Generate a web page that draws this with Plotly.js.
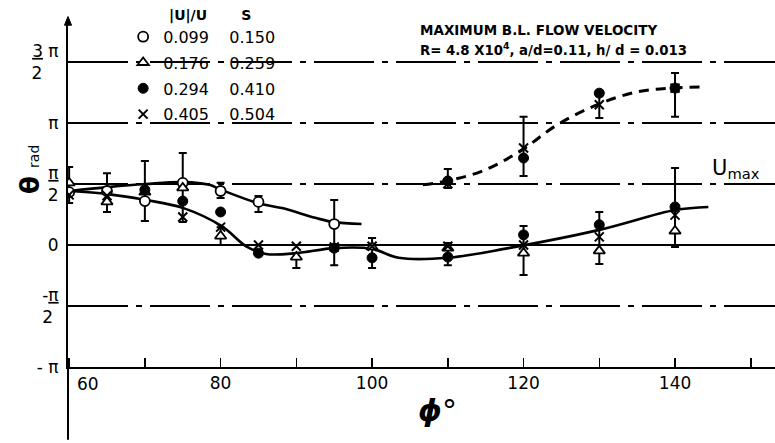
<!DOCTYPE html>
<html><head><meta charset="utf-8">
<script src="https://cdn.plot.ly/plotly-3.0.1.min.js"></script>
<style>html,body{margin:0;padding:0;background:#fff}#chart{width:775px;height:443px}</style>
</head><body><div id="chart"></div>
<script>
const PI = Math.PI;

// ---- data (phi in degrees, theta in radians) ----
const seriesNames = ['0.099&nbsp;&nbsp;&nbsp;&nbsp;0.150', '0.176&nbsp;&nbsp;&nbsp;&nbsp;0.259', '0.294&nbsp;&nbsp;&nbsp;&nbsp;0.410', '0.405&nbsp;&nbsp;&nbsp;&nbsp;0.504'];

const phiOpen   = [60, 65, 70, 75, 80, 85, 95];
const thetaOpen = [1.36, 1.39, 1.13, 1.60, 1.39, 1.11, 0.54];

const phiTri   = [60, 65, 70, 75, 80, 90, 100, 110, 120, 130, 140];
const thetaTri = [1.60, 1.11, 1.36, 1.47, 0.23, -0.31, -0.05, -0.08, -0.21, -0.15, 0.36];

const phiFill   = [70, 75, 80, 85, 95, 100, 110, 110, 120, 120, 130, 130, 140, 140];
const thetaFill = [1.42, 1.13, 0.85, -0.21, -0.08, -0.33, -0.31, 1.65, 2.24, 0.26, 3.91, 0.52, 4.04, 0.98];

const phiX   = [60, 65, 75, 80, 85, 90, 95, 100, 110, 110, 120, 120, 130, 130, 140, 140];
const thetaX = [1.29, 1.27, 0.72, 0.46, 0.0, -0.03, -0.05, -0.03, -0.03, 1.58, 2.50, 0.0, 3.61, 0.21, 4.04, 0.77];

// error bars: top and bottom of each bar
const errPhi = [60, 65, 70, 75, 80, 80, 85, 90, 95, 100, 110, 110, 120, 120, 130, 130, 140, 140];
const errTop = [2.01, 1.85, 2.16, 2.37, 1.60, 0.46, 1.26, -0.21, 1.16, 0.18, 0.05, 1.96, 3.30, 0.49, 3.85, 0.85, 4.43, 1.98];
const errBot = [1.08, 0.85, 0.62, 0.59, 1.21, 0.00, 0.85, -0.59, -0.52, -0.59, -0.52, 1.47, 1.78, -0.77, 3.27, -0.49, 3.30, -0.05];

// fitted curves
const lowPhi   = [60.1, 65.1, 70.1, 75.1, 80.1, 83.5, 86.0, 90.0, 95.0, 100.0, 103.5, 110.0, 118.0, 130.0, 140.0, 144.4];
const lowTheta = [1.39, 1.31, 1.16, 0.95, 0.49, -0.05, -0.23, -0.21, -0.08, -0.10, -0.33, -0.33, -0.08, 0.39, 0.90, 0.98];

const upPhi   = [60.1, 65.1, 70.1, 75.1, 78.5, 80.1, 84.9, 88.1, 92.5, 94.9, 98.6];
const upTheta = [1.39, 1.49, 1.57, 1.62, 1.55, 1.42, 1.08, 0.95, 0.70, 0.59, 0.54];

const dashPhi   = [106.7, 109.9, 114.9, 119.8, 124.4, 129.7, 134.9, 139.5, 143.7];
const dashTheta = [1.55, 1.65, 1.93, 2.45, 3.09, 3.61, 3.94, 4.04, 4.07];

const xTickVals = [80, 100, 120, 140];
const xTickText = ['80', '100', '120', '140'];
const xFirstLabel = '60';
const yTickVals = [-PI, -PI / 2, 0, PI / 2, PI, 1.5 * PI];
const yTickText = ['- π', '-<u>π</u><br>2&nbsp;', '0', '<u>π</u><br>2', 'π', '<u>3</u>&nbsp;π<br>2&nbsp;&nbsp;&nbsp;'];

// ---- traces ----
const FONT = 'DejaVu Sans, sans-serif';
const errCenter = errTop.map((t, i) => (t + errBot[i]) / 2);
const errHalf = errTop.map((t, i) => (t - errBot[i]) / 2);

const traces = [
  {x: lowPhi, y: lowTheta, mode: 'lines', line: {color: '#000', width: 2.6, shape: 'spline', smoothing: 1}, showlegend: false, hoverinfo: 'skip'},
  {x: upPhi, y: upTheta, mode: 'lines', line: {color: '#000', width: 2.6, shape: 'spline', smoothing: 1}, showlegend: false, hoverinfo: 'skip'},
  {x: dashPhi, y: dashTheta, mode: 'lines', line: {color: '#000', width: 3, shape: 'spline', smoothing: 1, dash: '10px,7px'}, showlegend: false, hoverinfo: 'skip'},
  {x: errPhi, y: errCenter, mode: 'markers', marker: {size: 2, opacity: 0}, showlegend: false,
   error_y: {type: 'data', array: errHalf, symmetric: true, color: '#000', thickness: 2, width: 4}},
  {x: phiOpen, y: thetaOpen, name: seriesNames[0], legendgroup: 'a', mode: 'markers',
   marker: {symbol: 'circle', size: 10, color: '#fff', line: {color: '#000', width: 1.8}}},
  {x: phiTri, y: thetaTri, name: seriesNames[1], legendgroup: 'b', mode: 'markers',
   marker: {symbol: 'triangle-up', size: 10, color: '#fff', line: {color: '#000', width: 1.8}}},
  {x: phiFill, y: thetaFill, name: seriesNames[2], legendgroup: 'c', mode: 'markers',
   marker: {symbol: 'circle', size: 10, color: '#000', line: {color: '#000', width: 1}}},
  {x: phiX, y: thetaX, name: seriesNames[3], legendgroup: 'd', mode: 'markers',
   marker: {symbol: 'x-thin-open', size: 9, color: '#000', line: {color: '#000', width: 2}}}
];

const layout = {
  width: 775, height: 443,
  margin: {l: 68, r: 0, t: 20, b: 76},
  paper_bgcolor: '#fff', plot_bgcolor: '#fff',
  font: {family: FONT, color: '#000'},
  showlegend: true,
  legend: {x: 0.078, xanchor: 'left', y: 1.053, yanchor: 'top', bgcolor: 'rgba(0,0,0,0)',
    font: {size: 16, family: FONT}, traceorder: 'grouped', tracegroupgap: 2,
    title: {text: '<b>&nbsp;&nbsp;&nbsp;&nbsp;&nbsp;&nbsp;&nbsp;&nbsp;&nbsp;|U|/U&nbsp;&nbsp;&nbsp;&nbsp;&nbsp;&nbsp;&nbsp;S</b>', font: {size: 14, family: FONT}}},
  xaxis: {range: [59.85, 153.2], showline: true, linecolor: '#000', linewidth: 2, ticks: 'inside', ticklen: 9,
    tickwidth: 1.5, tickcolor: '#000', tickvals: xTickVals, ticktext: xTickText, tickfont: {size: 17, family: FONT},
    minor: {tickmode: 'linear', tick0: 60, dtick: 10, ticks: 'inside', ticklen: 9, tickwidth: 1.5, tickcolor: '#000', showgrid: false},
    showgrid: false, zeroline: false, fixedrange: true},
  yaxis: {range: [-PI, 5.794], showline: true, linecolor: '#000', linewidth: 2, ticks: '',
    tickvals: yTickVals, ticktext: yTickText, tickfont: {size: 17, family: FONT}, ticklabelstandoff: 4,
    showgrid: true, gridcolor: '#000', gridwidth: 1.3, griddash: '60px,8px,6px,8px',
    zeroline: true, zerolinecolor: '#000', zerolinewidth: 1.6, fixedrange: true},
  shapes: [
    {type: 'line', xref: 'paper', yref: 'paper', x0: 0, x1: 0, y0: -0.21, y1: 0, line: {color: '#000', width: 2}},
    {type: 'path', xref: 'paper', yref: 'paper', path: 'M -0.005 0.985 L 0 1.01 L 0.005 0.985 Z', fillcolor: '#000', line: {color: '#000', width: 1}}
  ],
  annotations: [
    {xref: 'x', yref: 'paper', x: 60, y: 0, xanchor: 'center', yanchor: 'top', yshift: -5, xshift: 19, showarrow: false,
     text: xFirstLabel, font: {size: 17, family: FONT}},
    {xref: 'paper', yref: 'paper', x: 0.495, y: 0.971, xanchor: 'left', yanchor: 'middle', showarrow: false,
     text: '<b>MAXIMUM B.L. FLOW VELOCITY</b>', font: {size: 13.5, family: FONT}},
    {xref: 'paper', yref: 'paper', x: 0.495, y: 0.916, xanchor: 'left', yanchor: 'middle', showarrow: false,
     text: '<b>R= 4.8 X10<sup>4</sup>, a/d=0.11, h/ d = 0.013</b>', font: {size: 13.3, family: FONT}},
    {xref: 'x', yref: 'y', x: 144.6, y: PI / 2, xanchor: 'left', yanchor: 'bottom', yshift: 0, showarrow: false,
     text: 'U<sub>max</sub>', font: {size: 21, family: FONT}},
    {xref: 'paper', yref: 'paper', x: 0.523, y: -0.124, xanchor: 'center', yanchor: 'middle', showarrow: false,
     text: '<b><i>ϕ</i></b>°', font: {size: 30, family: FONT}},
    {xref: 'paper', yref: 'paper', x: -0.054, y: 0.57, xanchor: 'center', yanchor: 'middle', showarrow: false, textangle: -90,
     text: '<b>θ</b> <span style="font-size:14px">rad</span>', font: {size: 26, family: FONT}}
  ]
};

Plotly.newPlot('chart', traces, layout, {displayModeBar: false, staticPlot: true});
</script></body></html>
